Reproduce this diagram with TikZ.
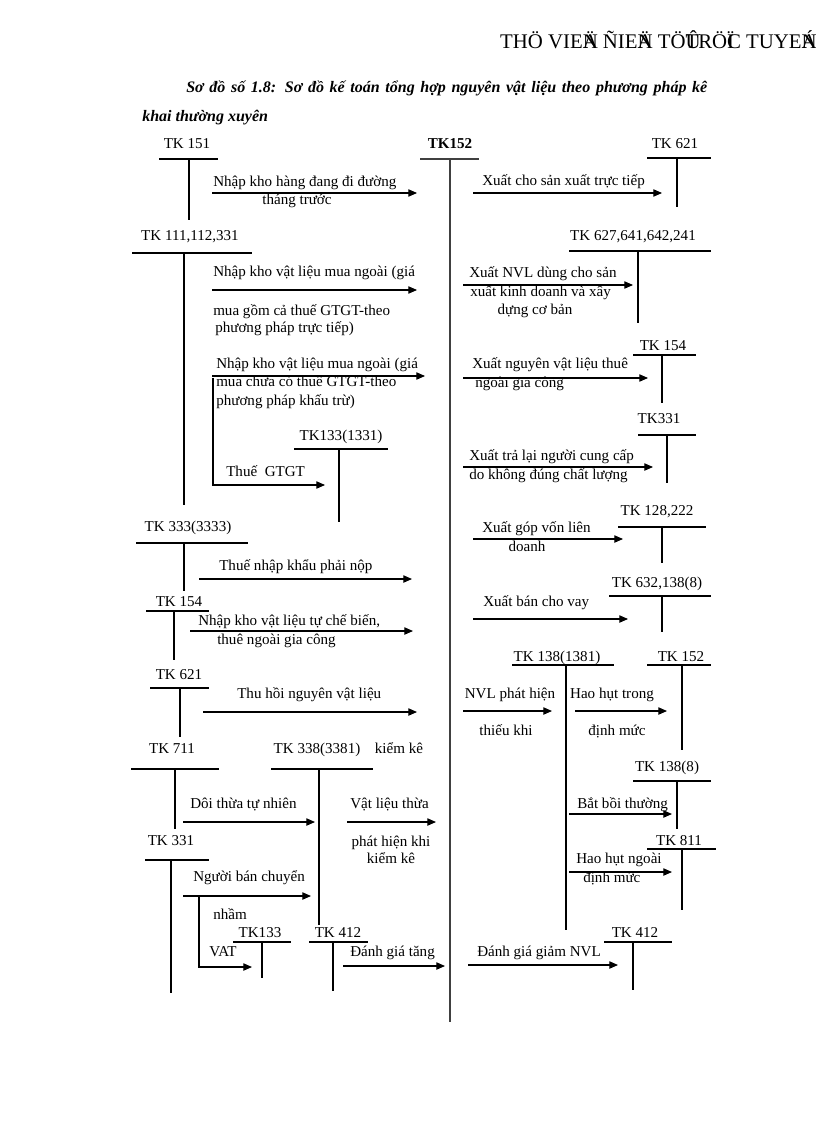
\documentclass[tikz,border=0pt]{standalone}
\usepackage{fontspec}
\setmainfont{Liberation Serif}
\usetikzlibrary{arrows.meta}

\tikzset{
  lbl/.style={font=\fontsize{11.3}{13}\selectfont,inner sep=0pt},
  txt/.style={lbl,anchor=mid west},
  tk/.style={lbl,anchor=mid},
  arr/.style={-{Triangle[length=6.5pt,width=5.5pt]},line width=0.8pt},
  tline/.style={line width=0.8pt},
}

\begin{document}
\begin{tikzpicture}[x=0.75pt,y=-0.75pt]
\useasboundingbox (0,0) rectangle (816,1123);
% header and title
\node[lbl,font=\fontsize{15.6}{18}\selectfont,anchor=mid east] (head) at (817,45) {THÖ VIE\rlap{Ä}N ÑIE\rlap{Ä}N TÖ\rlap{Û}TRÖ\rlap{Ï}C TUYE\rlap{Á}N};
\node[txt,font=\fontsize{12}{14}\selectfont\bfseries\itshape] (title1) at (186,89) {\makebox[390.75pt][s]{Sơ đồ số 1.8: Sơ đồ kế toán tổng hợp nguyên vật liệu theo phương pháp kê}};
\node[txt,font=\fontsize{12}{14}\selectfont\bfseries\itshape] (title2) at (142,118) {khai thường xuyên};
% central account
\node[tk,font=\fontsize{11.3}{13}\selectfont\bfseries] (tk152) at (450,145) {TK152};
\draw[tline,black!75] (420,159) -- (479,159);
\draw[tline,black!75] (450,159) -- (450,1022);
% T-accounts: name/label/label x/label y/bar from/bar to/bar y/stem x/stem end
\foreach \nm/\lab/\cx/\cy/\ua/\ub/\uy/\vx/\ve in {
  a151/{TK 151}/187/145/159/218/159/189/220,
  a111/{TK 111,112,331}/190/237/132/252/253/184/505,
  a1331/{TK133(1331)}/341/437/294/388/449/339/522,
  a3333/{TK 333(3333)}/188/528/136/248/543/184/591,
  a154/{TK 154}/179/603/146/209/611/174/660,
  a621/{TK 621}/179/676/150/209/688/180/737,
  a711/{TK 711}/172/750/131/219/769/175/829,
  a3381/{TK 338(3381)}/317/750/271/373/769/319/925,
  a331/{TK 331}/171/842/145/209/860/171/993,
  a133/{TK133}/260/934/233/291/942/262/978,
  a412/{TK 412}/338/934/309/368/942/333/991,
  b621/{TK 621}/675/145/647/711/158/677/207,
  b627/{TK 627,641,642,241}/633/237/569/711/251/638/323,
  b154/{TK 154}/663/347/633/696/355/662/403,
  b331/{TK331}/659/420/638/696/435/667/483,
  b128/{TK 128,222}/657/512/618/706/527/662/563,
  b632/{TK 632,138(8)}/657/584/609/711/596/662/632,
  b1381/{TK 138(1381)}/557/658/512/614/665/566/930,
  b152/{TK 152}/681/658/647/711/665/682/750,
  b1388/{TK 138(8)}/667/768/633/711/781/677/829,
  b811/{TK 811}/679/842/647/716/849/682/910,
  b412/{TK 412}/635/934/604/672/942/633/990}{
  \node[tk] (\nm) at (\cx,\cy) {\lab};
  \draw[tline] (\ua,\uy) -- (\ub,\uy);
  \draw[tline] (\vx,\uy) -- (\vx,\ve);
}
% debit side
\node[txt] (l1a) at (213,183) {Nhập kho hàng đang đi đường};
\node[tk] (l1b) at (297,201) {tháng trước};
\draw[arr] (212,193) -- (417,193);
\node[txt] (l2a) at (213,273) {Nhập kho vật liệu mua ngoài (giá};
\draw[arr] (212,290) -- (417,290);
\node[txt] (l2b) at (213,312) {mua gồm cả thuế GTGT-theo};
\node[txt] (l2c) at (215,329) {phương pháp trực tiếp)};
\node[txt] (l3a) at (216,365) {Nhập kho vật liệu mua ngoài (giá};
\draw[arr] (212,376) -- (425,376);
\node[txt] (l3b) at (216,383) {mua chưa có thuế GTGT-theo};
\node[txt] (l3c) at (216,402) {phương pháp khấu trừ)};
\draw[arr] (213,378) |- (325,485);
\node[txt] (l3d) at (226,473) {Thuế\ \ GTGT};
\node[txt] (l4) at (219,567) {Thuế nhập khẩu phải nộp};
\draw[arr] (199,579) -- (412,579);
\node[txt] (l5a) at (198,622) {Nhập kho vật liệu tự chế biến,};
\draw[arr] (190,631) -- (413,631);
\node[txt] (l5b) at (217,641) {thuê ngoài gia công};
\node[txt] (l6) at (237,695) {Thu hồi nguyên vật liệu};
\draw[arr] (203,712) -- (417,712);
\node[tk] (l7) at (399,750) {kiểm kê};
\node[txt] (l8) at (190,805) {Dôi thừa tự nhiên};
\draw[arr] (183,822) -- (315,822);
\node[txt] (l9a) at (350,805) {Vật liệu thừa};
\draw[arr] (347,822) -- (436,822);
\node[tk] (l9b) at (391,843) {phát hiện khi};
\node[tk] (l9c) at (391,860) {kiểm kê};
\node[txt] (l10a) at (193,878) {Người bán chuyển};
\draw[arr] (183,896) -- (311,896);
\draw[arr] (199,896) |- (252,967);
\node[tk] (l10b) at (230,916) {nhầm};
\node[tk] (l10c) at (223,953) {VAT};
\node[txt] (l11) at (350,953) {Đánh giá tăng};
\draw[arr] (343,966) -- (445,966);
% credit side
\node[txt] (r1) at (482,182) {Xuất cho sản xuất trực tiếp};
\draw[arr] (473,193) -- (662,193);
\node[txt] (r2a) at (469,274) {Xuất NVL dùng cho sản};
\draw[arr] (463,285) -- (633,285);
\node[txt] (r2b) at (470,293) {xuất kinh doanh và xây};
\node[tk] (r2c) at (535,311) {dựng cơ bản};
\node[txt] (r3a) at (472,365) {Xuất nguyên vật liệu thuê};
\draw[arr] (463,378) -- (648,378);
\node[txt] (r3b) at (475,384) {ngoài gia công};
\node[txt] (r4a) at (469,457) {Xuất trả lại người cung cấp};
\draw[arr] (463,467) -- (653,467);
\node[txt] (r4b) at (469,476) {do không đúng chất lượng};
\node[txt] (r5a) at (482,529) {Xuất góp vốn liên};
\draw[arr] (473,539) -- (623,539);
\node[tk] (r5b) at (527,548) {doanh};
\node[txt] (r6) at (483,603) {Xuất bán cho vay};
\draw[arr] (473,619) -- (628,619);
\node[tk] (r7a) at (510,695) {NVL phát hiện};
\draw[arr] (463,711) -- (552,711);
\node[tk] (r7b) at (506,732) {thiếu khi};
\node[tk] (r8a) at (612,695) {Hao hụt trong};
\draw[arr] (575,711) -- (667,711);
\node[tk] (r8b) at (617,732) {định mức};
\node[txt] (r9) at (577,805) {Bắt bồi thường};
\draw[arr] (569,814) -- (672,814);
\node[txt] (r10a) at (576,860) {Hao hụt ngoài};
\draw[arr] (569,872) -- (672,872);
\node[txt] (r10b) at (583,879) {định mức};
\node[txt] (r11) at (477,953) {Đánh giá giảm NVL};
\draw[arr] (468,965) -- (618,965);
\end{tikzpicture}
\end{document}
